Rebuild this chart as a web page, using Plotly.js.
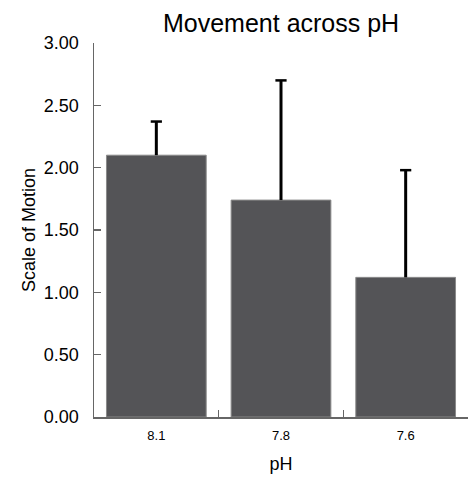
<!DOCTYPE html>
<html>
<head>
<meta charset="utf-8">
<script src="https://cdn.plot.ly/plotly-3.0.1.min.js"></script>
<style>html,body{margin:0;padding:0;background:#fff;}#chart{width:474px;height:477px;}</style>
</head>
<body>
<div id="chart"></div>
<script>
const categories = ["8.1", "7.8", "7.6"];
const means = [2.10, 1.74, 1.12];
const errPlus = [0.27, 0.96, 0.86];
const yTicks = [0, 0.5, 1, 1.5, 2, 2.5, 3];
const yTickLabels = ["0.00", "0.50", "1.00", "1.50", "2.00", "2.50", "3.00"];

const fontFam = "Liberation Sans, Arial, sans-serif";

const errTops = means.map((m, i) => m + errPlus[i]);

const barTrace = {
  type: "bar",
  x: categories,
  y: means,
  width: 0.8,
  marker: { color: "#545457", line: { color: "#8a8a8a", width: 1 } },
  error_y: {
    type: "data",
    symmetric: false,
    array: errPlus,
    arrayminus: [0, 0, 0],
    color: "#000000",
    thickness: 3,
    width: 0
  },
  hoverinfo: "none"
};

const capTrace = {
  type: "scatter",
  mode: "markers",
  x: categories,
  y: errTops,
  marker: { symbol: "line-ew", size: 8, line: { color: "#000000", width: 2.5 } },
  hoverinfo: "none",
  cliponaxis: false
};

const layout = {
  width: 474,
  height: 477,
  margin: { l: 94, r: 6, t: 43, b: 60 },
  paper_bgcolor: "#ffffff",
  plot_bgcolor: "#ffffff",
  showlegend: false,
  font: { family: fontFam, color: "#000000" },
  title: {
    text: "Movement across pH",
    font: { size: 25, family: fontFam, color: "#000" },
    x: 0.593, xanchor: "center",
    y: 0.952, yanchor: "middle", yref: "container"
  },
  xaxis: {
    type: "category",
    range: [-0.5, 2.5],
    showline: true, linecolor: "#666", linewidth: 1.5,
    ticks: "inside", tickson: "boundaries", ticklen: 7, tickcolor: "#666", tickwidth: 1.5,
    showgrid: false, zeroline: false,
    tickfont: { size: 13, family: fontFam, color: "#000" },
    ticklabelstandoff: 6,
    title: { text: "pH", font: { size: 18, family: fontFam, color: "#000" }, standoff: 15 }
  },
  yaxis: {
    range: [0, 3],
    showline: true, linecolor: "#666", linewidth: 1.5,
    ticks: "inside", ticklen: 7, tickcolor: "#666", tickwidth: 1.5,
    tickvals: yTicks, ticktext: yTickLabels,
    showgrid: false, zeroline: false,
    tickfont: { size: 18, family: fontFam, color: "#000" },
    ticklabelstandoff: 10,
    title: { text: "Scale of Motion", font: { size: 18, family: fontFam, color: "#000" }, standoff: 3 }
  }
};

Plotly.newPlot("chart", [barTrace, capTrace], layout, { displayModeBar: false, staticPlot: true });
</script>
</body>
</html>
